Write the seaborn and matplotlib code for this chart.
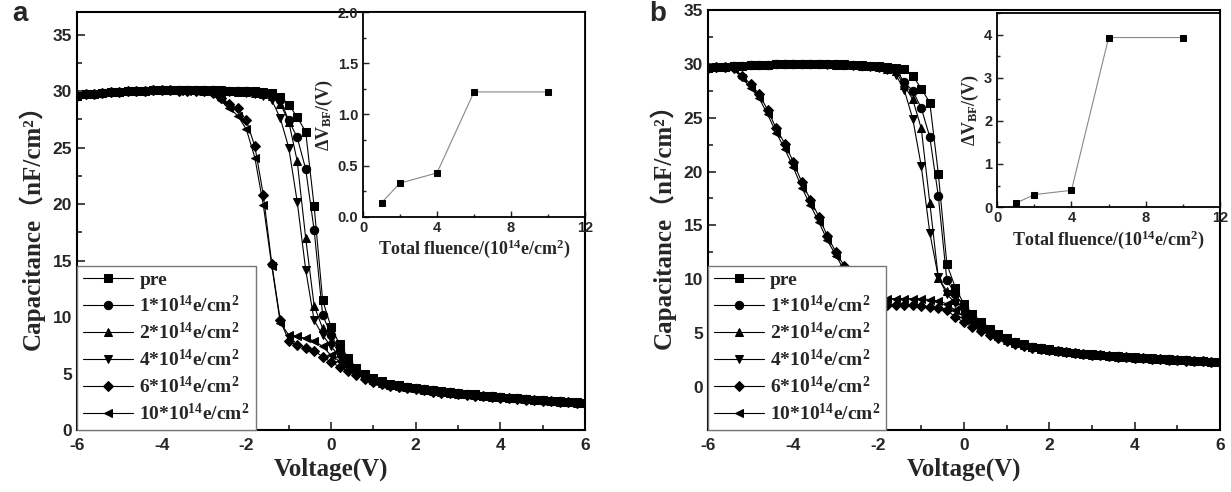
import numpy as np
import pandas as pd
import matplotlib
matplotlib.use('Agg')
import matplotlib.pyplot as plt
from matplotlib.ticker import MultipleLocator, FormatStrFormatter
import seaborn as sns

# Voltage sweep, -6 V to 6 V in 0.2 V steps
voltage = np.round(np.linspace(-6, 6, 61), 1)

labels = ['pre', '1*10$^{14}$e/cm$^2$', '2*10$^{14}$e/cm$^2$',
          '4*10$^{14}$e/cm$^2$', '6*10$^{14}$e/cm$^2$', '10*10$^{14}$e/cm$^2$']
markers = ['s', 'o', '^', 'v', 'D', '<']

# ---- panel a: C-V curves ----
pre_a = [29.6, 29.7, 29.7, 29.8, 29.9, 29.9, 30.0, 30.0, 30.0, 30.1, 30.1, 30.1, 30.1, 30.1, 30.1, 30.1,
         30.1, 30.1, 30.0, 30.0, 30.0, 30.0, 29.9, 29.8,
         29.5, 28.8, 27.7, 26.4, 19.8, 11.5, 9.1, 7.6, 6.4,
         5.5, 5.0, 4.6, 4.3, 4.1, 3.95, 3.85, 3.75, 3.65, 3.55, 3.45, 3.35, 3.3, 3.2, 3.15, 3.05,
         3.0, 2.9, 2.85, 2.8, 2.75, 2.7, 2.65, 2.6, 2.55, 2.5, 2.45, 2.4]
f1_a = [29.6, 29.7, 29.7, 29.8, 29.9, 29.9, 30.0, 30.0, 30.0, 30.1, 30.1, 30.1, 30.1, 30.1, 30.1, 30.1,
        30.1, 30.0, 30.0, 30.0, 30.0, 29.9, 29.8, 29.7,
        29.2, 27.4, 25.9, 23.1, 17.7, 10.2, 8.4, 7.1, 6.1,
        5.3, 4.85, 4.45, 4.2, 4.0, 3.9, 3.8, 3.7, 3.6, 3.5, 3.4, 3.33, 3.25, 3.18, 3.1, 3.03,
        2.97, 2.9, 2.85, 2.8, 2.74, 2.68, 2.63, 2.58, 2.53, 2.48, 2.43, 2.38]
f2_a = [29.6, 29.7, 29.7, 29.8, 29.9, 29.9, 30.0, 30.0, 30.0, 30.1, 30.1, 30.1, 30.1, 30.1, 30.1, 30.0,
        30.0, 30.0, 30.0, 29.9, 29.9, 29.8, 29.7, 29.6,
        28.9, 27.3, 23.8, 17.0, 11.0, 9.0, 7.9, 6.8, 5.9,
        5.2, 4.8, 4.4, 4.15, 3.98, 3.88, 3.78, 3.68, 3.58, 3.48, 3.38, 3.3, 3.23, 3.16, 3.09, 3.02,
        2.96, 2.9, 2.84, 2.79, 2.73, 2.67, 2.62, 2.57, 2.52, 2.47, 2.42, 2.37]
f4_a = [29.6, 29.7, 29.7, 29.8, 29.9, 29.9, 30.0, 30.0, 30.0, 30.1, 30.1, 30.1, 30.1, 30.1, 30.0, 30.0,
        30.0, 30.0, 29.9, 29.9, 29.8, 29.7, 29.6, 29.2,
        27.6, 25.0, 20.2, 14.2, 9.7, 8.4, 7.4, 6.5, 5.7,
        5.1, 4.7, 4.35, 4.1, 3.95, 3.85, 3.75, 3.65, 3.55, 3.45, 3.36, 3.28, 3.21, 3.14, 3.07, 3.0,
        2.95, 2.89, 2.83, 2.78, 2.72, 2.66, 2.61, 2.56, 2.51, 2.46, 2.41, 2.36]
f6_a = [29.6, 29.7, 29.7, 29.8, 29.9, 29.9, 30.0, 30.0, 30.0, 30.1, 30.1, 30.1, 30.0, 30.0, 30.0, 30.0,
        29.8, 29.4, 28.9, 28.5, 27.4, 25.1, 20.8, 14.7,
        9.7, 7.9, 7.5, 7.3, 7.0, 6.5, 6.0, 5.6, 5.2,
        4.9, 4.55, 4.25, 4.05, 3.9, 3.8, 3.7, 3.6, 3.5, 3.4, 3.32, 3.25, 3.18, 3.11, 3.04, 2.98,
        2.92, 2.86, 2.81, 2.76, 2.7, 2.65, 2.6, 2.55, 2.5, 2.45, 2.4, 2.35]
f10_a = [29.6, 29.7, 29.7, 29.8, 29.9, 29.9, 30.0, 30.0, 30.0, 30.1, 30.1, 30.1, 30.0, 30.0, 30.0, 30.0,
         29.7, 29.2, 28.5, 27.8, 26.6, 24.1, 19.9, 14.5,
         9.5, 8.4, 8.3, 8.1, 7.9, 7.4, 6.6, 6.1, 5.6,
         5.1, 4.7, 4.35, 4.1, 3.95, 3.85, 3.75, 3.65, 3.55, 3.45, 3.36, 3.28, 3.2, 3.13, 3.06, 3.0,
         2.94, 2.88, 2.82, 2.77, 2.71, 2.66, 2.61, 2.56, 2.51, 2.46, 2.41, 2.36]

# ---- panel b: C-V curves ----
pre_b = [29.6, 29.7, 29.7, 29.8, 29.8, 29.9, 29.9, 29.9, 30.0, 30.0, 30.0, 30.0, 30.0, 30.0, 30.0, 30.0,
         30.0, 29.9, 29.9, 29.8, 29.8, 29.7, 29.6, 29.5,
         28.9, 27.7, 26.4, 19.8, 11.4, 9.2, 7.7, 6.8, 6.0,
         5.4, 4.9, 4.5, 4.2, 3.95, 3.75, 3.6, 3.48, 3.38, 3.28, 3.18, 3.1, 3.03, 2.96, 2.9, 2.84,
         2.79, 2.74, 2.69, 2.64, 2.6, 2.56, 2.52, 2.48, 2.44, 2.4, 2.36, 2.32]
f1_b = [29.6, 29.7, 29.7, 29.8, 29.8, 29.9, 29.9, 29.9, 30.0, 30.0, 30.0, 30.0, 30.0, 30.0, 30.0, 30.0,
        29.9, 29.9, 29.8, 29.8, 29.7, 29.6, 29.5, 28.3,
        27.5, 25.9, 23.2, 17.7, 9.9, 8.6, 7.4, 6.5, 5.8,
        5.25, 4.8, 4.42, 4.13, 3.9, 3.72, 3.58, 3.46, 3.36, 3.26, 3.16, 3.08, 3.01, 2.95, 2.89, 2.83,
        2.78, 2.73, 2.68, 2.63, 2.59, 2.55, 2.51, 2.47, 2.43, 2.39, 2.35, 2.31]
f2_b = [29.6, 29.7, 29.7, 29.8, 29.8, 29.9, 29.9, 29.9, 30.0, 30.0, 30.0, 30.0, 30.0, 30.0, 30.0, 29.9,
        29.9, 29.9, 29.8, 29.8, 29.7, 29.5, 29.3, 28.0,
        26.7, 24.0, 17.1, 10.1, 8.9, 8.1, 7.1, 6.3, 5.7,
        5.15, 4.75, 4.38, 4.1, 3.88, 3.7, 3.56, 3.44, 3.34, 3.24, 3.15, 3.07, 3.0, 2.94, 2.88, 2.82,
        2.77, 2.72, 2.67, 2.62, 2.58, 2.54, 2.5, 2.46, 2.42, 2.38, 2.34, 2.3]
f4_b = [29.6, 29.7, 29.7, 29.8, 29.8, 29.9, 29.9, 29.9, 30.0, 30.0, 30.0, 30.0, 30.0, 30.0, 29.9, 29.9,
        29.9, 29.8, 29.8, 29.7, 29.6, 29.4, 29.0, 27.6,
        24.9, 20.5, 14.3, 10.2, 8.6, 7.8, 6.9, 6.2, 5.6,
        5.1, 4.7, 4.35, 4.08, 3.86, 3.68, 3.55, 3.43, 3.33, 3.23, 3.14, 3.06, 2.99, 2.93, 2.87, 2.81,
        2.76, 2.71, 2.66, 2.62, 2.58, 2.54, 2.5, 2.46, 2.42, 2.38, 2.34, 2.3]
f6_b = [29.6, 29.7, 29.7, 29.6, 28.9, 28.1, 27.2, 25.7, 24.0, 22.6, 20.9, 19.0, 17.4, 15.8, 14.0, 12.5,
        11.2, 10.0, 9.0, 8.3, 7.7, 7.6, 7.6, 7.6,
        7.6, 7.5, 7.4, 7.3, 7.1, 6.5, 6.0, 5.6, 5.2,
        4.85, 4.55, 4.25, 4.02, 3.82, 3.66, 3.53, 3.41, 3.31, 3.21, 3.12, 3.05, 2.98, 2.92, 2.86, 2.8,
        2.75, 2.7, 2.65, 2.61, 2.57, 2.53, 2.49, 2.45, 2.41, 2.37, 2.33, 2.29]
f10_b = [29.6, 29.7, 29.7, 29.5, 28.7, 27.8, 26.8, 25.3, 23.6, 22.1, 20.4, 18.5, 16.9, 15.3, 13.6, 12.2,
         10.8, 9.6, 8.9, 8.5, 8.2, 8.2, 8.2, 8.2,
         8.2, 8.2, 8.1, 8.0, 7.7, 7.1, 6.5, 6.0, 5.5,
         5.0, 4.65, 4.32, 4.06, 3.85, 3.68, 3.54, 3.42, 3.32, 3.22, 3.13, 3.05, 2.98, 2.92, 2.86, 2.8,
         2.75, 2.7, 2.65, 2.61, 2.57, 2.53, 2.49, 2.45, 2.41, 2.37, 2.33, 2.29]

# ---- insets: threshold shift vs total fluence ----
fluence = [1, 2, 4, 6, 10]
dv_a = [0.14, 0.33, 0.43, 1.22, 1.22]
dv_b = [0.09, 0.29, 0.39, 3.93, 3.93]

series_a = [pre_a, f1_a, f2_a, f4_a, f6_a, f10_a]
series_b = [pre_b, f1_b, f2_b, f4_b, f6_b, f10_b]

sns.set_style('ticks')
plt.rcParams['font.family'] = ['Liberation Sans', 'DejaVu Sans']
plt.rcParams['font.weight'] = 'bold'
plt.rcParams['axes.unicode_minus'] = False
plt.rcParams['mathtext.fontset'] = 'custom'
plt.rcParams['mathtext.rm'] = 'Liberation Serif:bold'
plt.rcParams['mathtext.it'] = 'Liberation Serif:bold'
plt.rcParams['mathtext.bf'] = 'Liberation Serif:bold'
plt.rcParams['mathtext.default'] = 'rm'

serif_b = dict(family=['Liberation Serif', 'Noto Sans CJK SC'], weight='bold')

fig = plt.figure(figsize=(12.31, 4.92), dpi=100)


def style_axes(ax, lw=1.5, size=12.5, major=6, minor=3.5, xpad=6):
    for s in ax.spines.values():
        s.set_linewidth(lw)
        s.set_color('black')
    ax.tick_params(which='both', direction='in', top=False, right=False,
                   width=lw * 0.8, labelsize=size)
    ax.tick_params(which='major', length=major)
    ax.tick_params(which='minor', length=minor)
    ax.tick_params(axis='x', pad=xpad)


def main_panel(rect, series, ylim):
    ax = fig.add_axes(rect)
    for vals, lab, mk in zip(series, labels, markers):
        df = pd.DataFrame({'V': voltage, 'C': vals})
        sns.lineplot(data=df, x='V', y='C', ax=ax, marker=mk, color='black',
                     linewidth=0.8, markersize=6 if mk != 'D' else 5,
                     markeredgecolor='black', label=lab)
    ax.set_xlim(-6, 6)
    ax.set_ylim(*ylim)
    ax.xaxis.set_major_locator(MultipleLocator(2))
    ax.xaxis.set_minor_locator(MultipleLocator(1))
    ax.yaxis.set_major_locator(MultipleLocator(5))
    ax.yaxis.set_minor_locator(MultipleLocator(2.5))
    style_axes(ax)
    ax.set_xlabel('Voltage(V)', fontsize=18, labelpad=3, **serif_b)
    ax.set_ylabel('Capacitance（nF/cm²）', fontsize=18, labelpad=6, **serif_b)
    leg = ax.legend(loc='lower left', bbox_to_anchor=(0, 0), borderaxespad=0,
                    frameon=True, fancybox=False, edgecolor='#777777', framealpha=1,
                    prop=dict(family='Liberation Serif', weight='bold', size=14),
                    handlelength=2.6, handletextpad=0.3, labelspacing=0.3, borderpad=0.3)
    leg.get_frame().set_linewidth(1.0)
    leg.set_zorder(20)
    return ax


def inset(rect, yvals, ylim, ymajor, yminor, fmt):
    ax = fig.add_axes(rect)
    ax.set_zorder(30)
    ax.set_facecolor('white')
    sns.lineplot(x=fluence, y=yvals, ax=ax, marker='s', color='#888888', linewidth=0.8,
                 markersize=4, markerfacecolor='black', markeredgecolor='black')
    ax.set_xlim(0, 12)
    ax.set_ylim(*ylim)
    ax.xaxis.set_major_locator(MultipleLocator(4))
    ax.xaxis.set_minor_locator(MultipleLocator(2))
    ax.yaxis.set_major_locator(MultipleLocator(ymajor))
    ax.yaxis.set_minor_locator(MultipleLocator(yminor))
    ax.yaxis.set_major_formatter(FormatStrFormatter(fmt))
    style_axes(ax, lw=1.3, size=10.5, major=4, minor=2.5, xpad=3)
    ax.set_xlabel('Total fluence/(10$^{14}$e/cm$^2$)', fontsize=13, labelpad=2, **serif_b)
    ax.set_ylabel('ΔV$_{BF}$/(V)', fontsize=13, labelpad=2, **serif_b)
    return ax


main_panel([0.0626, 0.126, 0.4127, 0.8496], series_a, (0, 37))
main_panel([0.5751, 0.126, 0.4159, 0.8537], series_b, (-4, 35))
inset([0.2949, 0.559, 0.1803, 0.4166], dv_a, (0, 2.0), 0.5, 0.25, '%.1f')
inset([0.810, 0.579, 0.1812, 0.3947], dv_b, (0, 4.5), 1, 0.5, '%d')

fig.text(0.010, 0.998, 'a', fontsize=20, weight='bold', family='Liberation Sans', va='top')
fig.text(0.527, 0.998, 'b', fontsize=20, weight='bold', family='Liberation Sans', va='top')

fig.savefig('out.png', dpi=100)
